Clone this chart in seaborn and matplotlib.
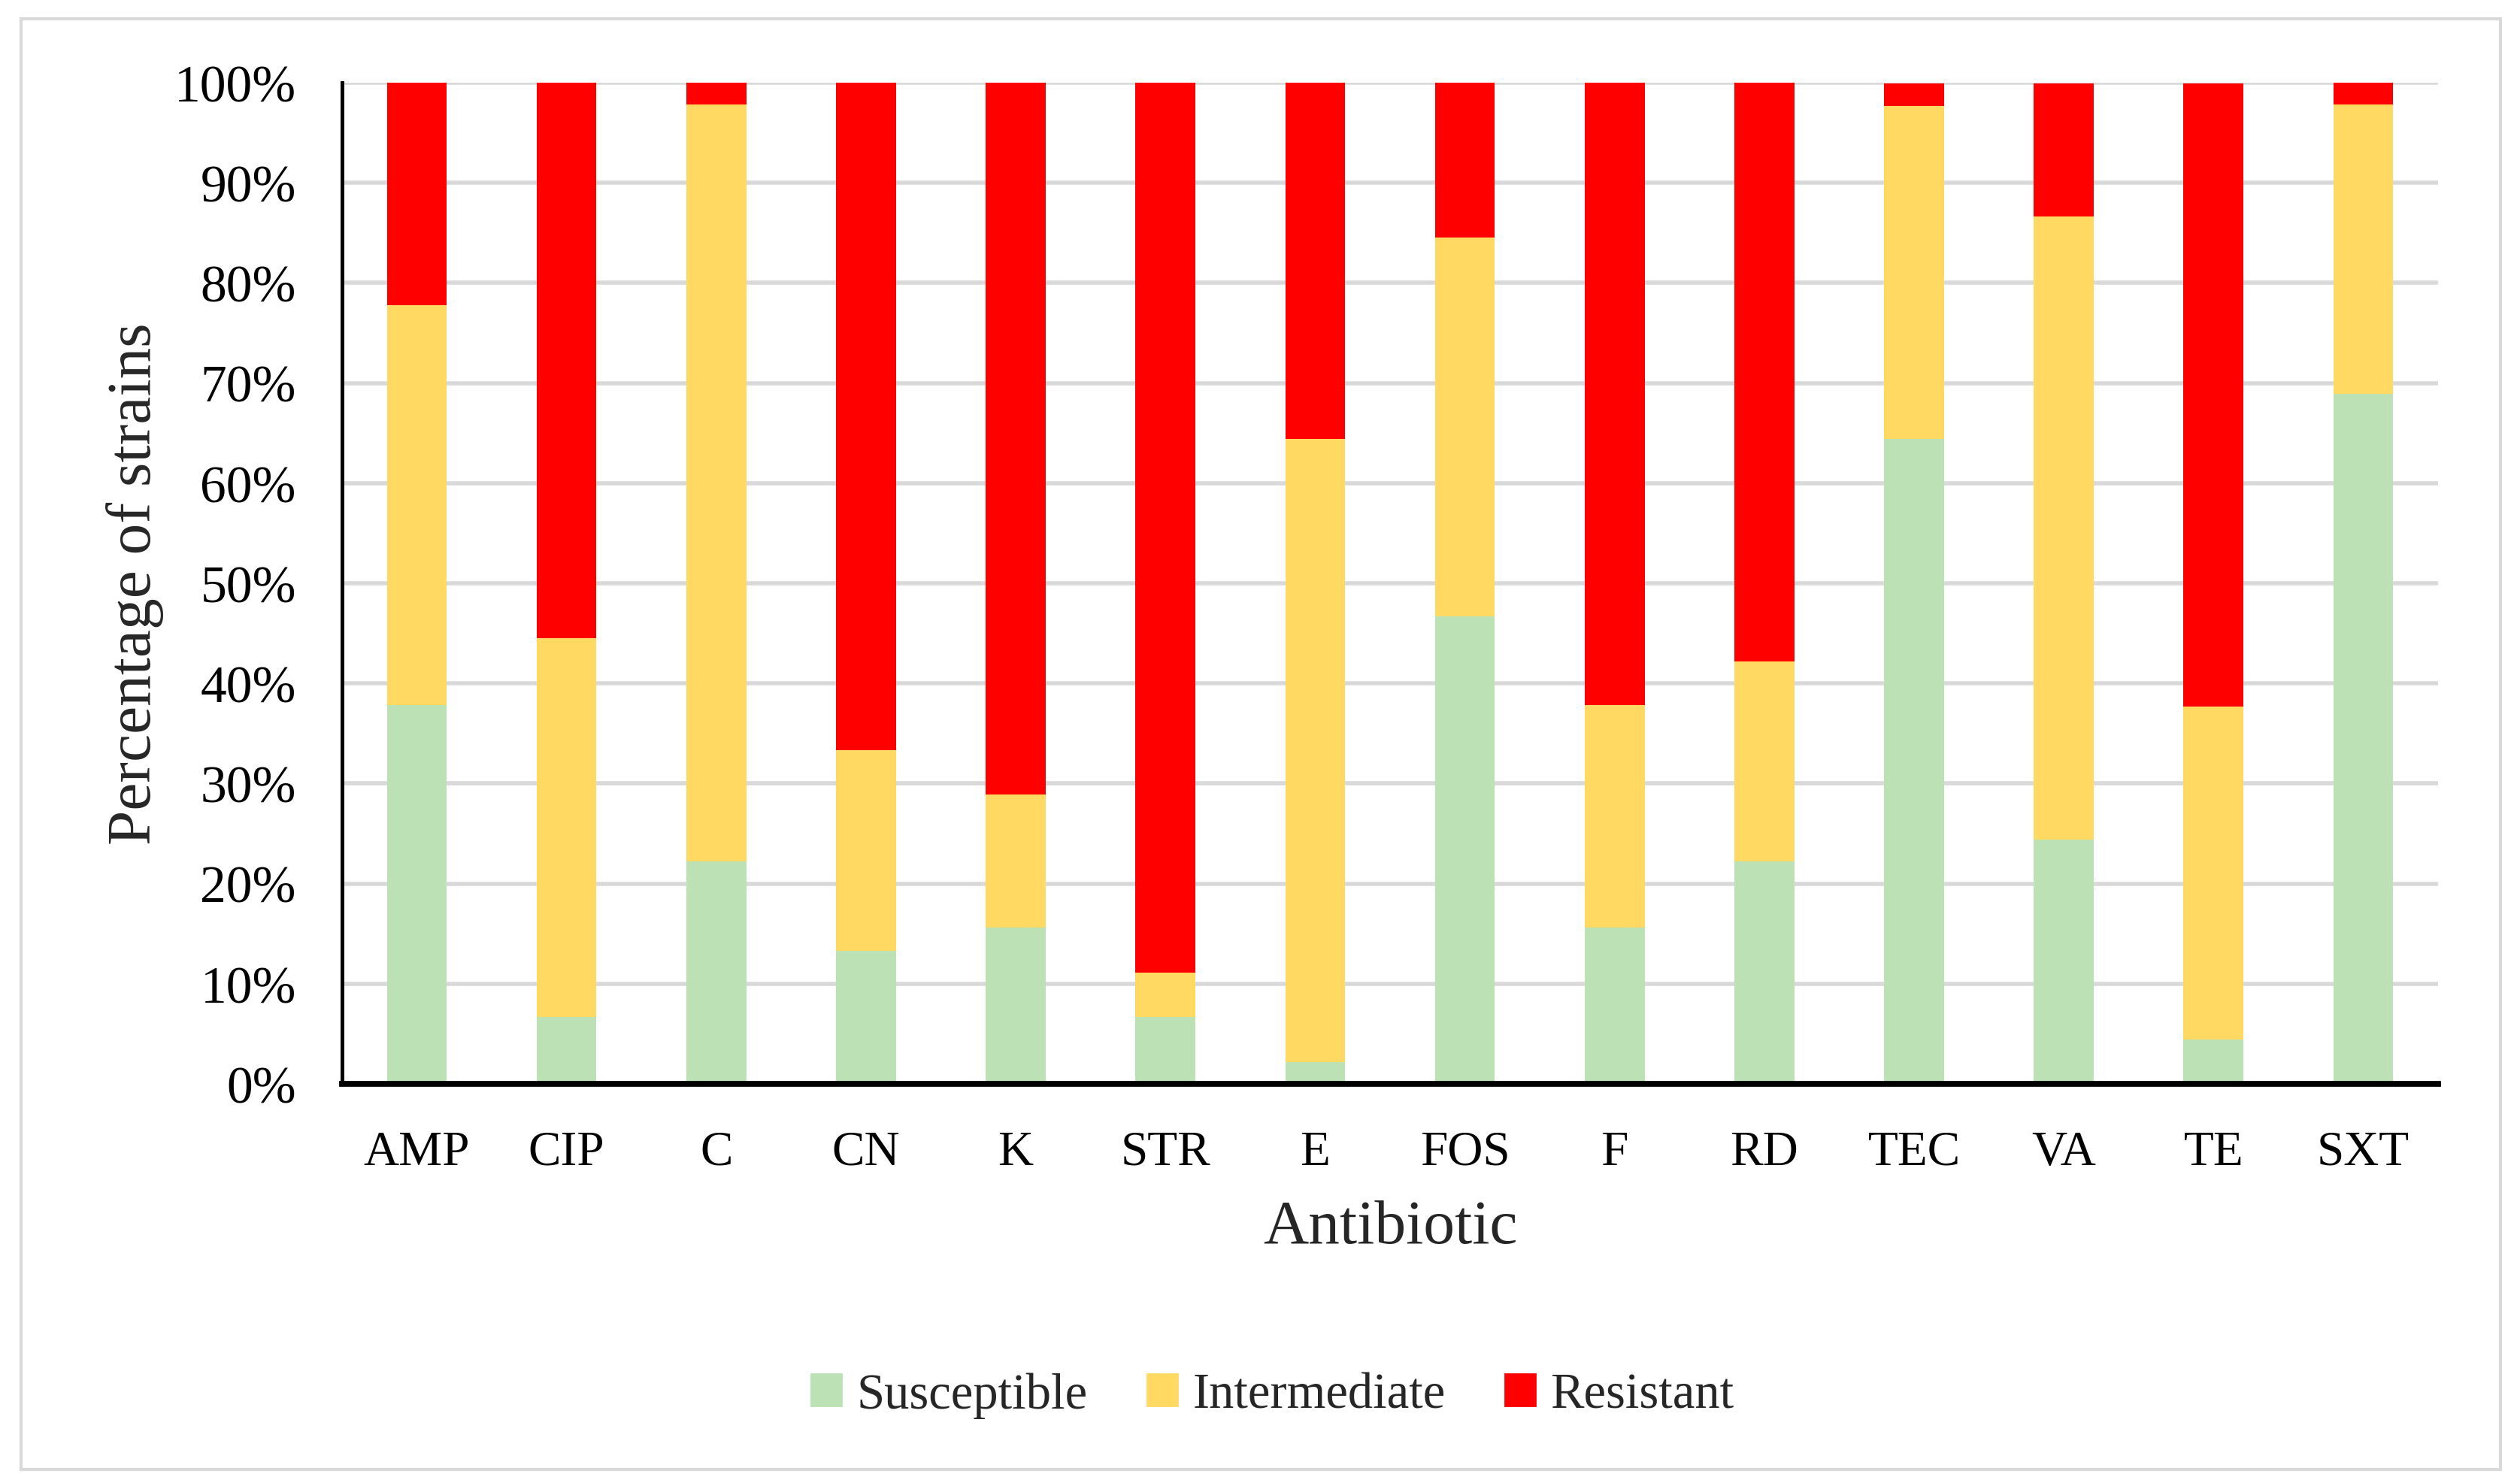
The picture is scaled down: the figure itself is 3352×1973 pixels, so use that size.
import matplotlib
matplotlib.use("Agg")
import matplotlib.pyplot as plt
import matplotlib.patches as mpatches
from matplotlib.ticker import PercentFormatter
import seaborn as sns
import numpy as np

# ── Data: antibiotic susceptibility profile (% of strains) ────────────────────
antibiotics = ["AMP", "CIP", "C", "CN", "K", "STR", "E",
               "FOS", "F", "RD", "TEC", "VA", "TE", "SXT"]
susceptible = [37.8, 6.7, 22.2, 13.3, 15.6, 6.7, 2.2,
               46.7, 15.6, 22.2, 64.4, 24.4, 4.4, 68.9]
intermediate = [40.0, 37.8, 75.6, 20.0, 13.3, 4.4, 62.2,
                37.8, 22.2, 20.0, 33.3, 62.2, 33.3, 28.9]
resistant = [22.2, 55.6, 2.2, 66.7, 71.1, 88.9, 35.6,
             15.6, 62.2, 57.8, 2.2, 13.3, 62.2, 2.2]

categories = ["Susceptible", "Intermediate", "Resistant"]
colors = {"Susceptible": "#bbe1b4", "Intermediate": "#ffd961", "Resistant": "#ff0000"}

# cumulative tops for stacking
s = np.array(susceptible)
si = s + np.array(intermediate)
total = si + np.array(resistant)

# ── Style ─────────────────────────────────────────────────────────────────────
sns.set_theme(style="white")
plt.rcParams["font.family"] = ["Liberation Serif", "DejaVu Serif"]

fig = plt.figure(figsize=(16.76, 9.87), dpi=200)
ax = fig.add_axes([0.1357, 0.2690, 0.8318, 0.6748])

# draw from the top layer down so each shorter bar covers the one behind it
for vals, key in [(total, "Resistant"), (si, "Intermediate"), (s, "Susceptible")]:
    sns.barplot(x=antibiotics, y=vals, color=colors[key], width=0.4,
                saturation=1, linewidth=0, ax=ax, zorder=3)

ax.set_xlim(-0.5, len(antibiotics) - 0.5)
ax.set_ylim(0, 100)
ax.set_yticks(np.arange(0, 101, 10))
ax.yaxis.set_major_formatter(PercentFormatter(decimals=0))
ax.grid(axis="y", color="#d9d9d9", linewidth=2.0, zorder=0)
ax.set_axisbelow(True)

for side in ["top", "right"]:
    ax.spines[side].set_visible(False)
ax.spines["left"].set_color("black")
ax.spines["left"].set_linewidth(1.8)
ax.spines["bottom"].set_color("black")
ax.spines["bottom"].set_linewidth(2.8)
ax.spines["bottom"].set_zorder(4)

ax.tick_params(axis="both", length=0, colors="black")
ax.tick_params(axis="x", pad=22, labelsize=23.5)
ax.tick_params(axis="y", pad=22, labelsize=25)

ax.set_xlabel("Antibiotic", fontsize=30, labelpad=12)
ax.set_ylabel("Percentage of strains", fontsize=30, labelpad=5)

# legend
handles = [mpatches.Patch(color=colors[c], label=c) for c in categories]
fig.legend(handles=handles, loc="center", bbox_to_anchor=(0.505, 0.0593),
           ncol=3, frameon=False, fontsize=24, handlelength=0.6,
           handleheight=0.6, handletextpad=0.3, columnspacing=1.2)

# light grey outer frame around the chart
frame = mpatches.Rectangle((28 / 3352, 1 - 1956 / 1974),
                           (3326 - 28) / 3352, (1956 - 26) / 1974,
                           transform=fig.transFigure, fill=False,
                           edgecolor="#d9d9d9", linewidth=1.5)
fig.patches.append(frame)

fig.savefig("out.png", dpi=200, facecolor="white")
